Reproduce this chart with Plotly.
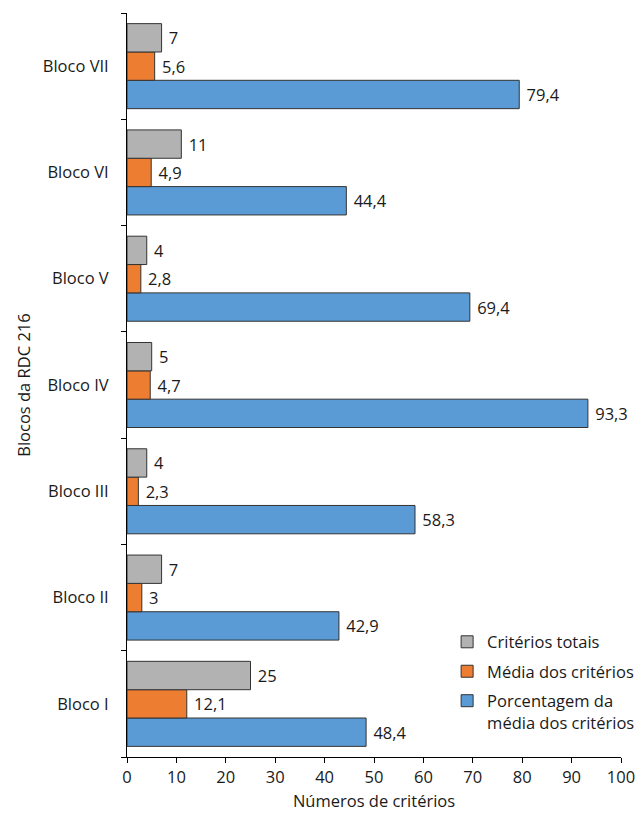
import plotly.graph_objects as go

categories = ["Bloco I", "Bloco II", "Bloco III", "Bloco IV", "Bloco V", "Bloco VI", "Bloco VII"]
criterios_totais = [25, 7, 4, 5, 4, 11, 7]
media_criterios = [12.1, 3, 2.3, 4.7, 2.8, 4.9, 5.6]
porcentagem_media = [48.4, 42.9, 58.3, 93.3, 69.4, 44.4, 79.4]

names = ["Critérios totais", "Média dos critérios", "Porcentagem da<br>média dos critérios"]
colors = ["#b2b2b2", "#ed7d31", "#5b9bd5"]

FONT = "Open Sans"
fs = 16.5

def fmt(v):
    s = ("%g" % v)
    return "\u00a0" + s.replace(".", ",")

fig = go.Figure()
series = [criterios_totais, media_criterios, porcentagem_media]
# plotly places grouped horizontal bars bottom-to-top, so add in reverse
for i in [2, 1, 0]:
    fig.add_trace(go.Bar(
        y=categories, x=series[i], orientation="h", name=names[i],
        legendgroup="g%d" % i, legendrank=i + 1,
        marker=dict(color=colors[i], line=dict(color="#333333", width=1)),
        text=[fmt(v) for v in series[i]], textposition="outside",
        textfont=dict(family=FONT, size=fs, color="#1a1a1a"),
        cliponaxis=False,
    ))

fig.update_layout(
    width=643, height=814,
    margin=dict(l=127, r=22, t=13, b=57, autoexpand=False),
    paper_bgcolor="white", plot_bgcolor="white",
    barmode="group", bargap=0.2, bargroupgap=0,
    font=dict(family=FONT, size=fs, color="#1a1a1a"),
    legend=dict(
        x=0.648, y=0.178, xanchor="left", yanchor="top",
        traceorder="grouped", valign="top",
        font=dict(family=FONT, size=fs, color="#1a1a1a"),
        bgcolor="rgba(0,0,0,0)", tracegroupgap=5,
    ),
    xaxis=dict(
        range=[0, 100], dtick=10, tick0=0, automargin=False,
        showgrid=False, zeroline=False,
        showline=True, linecolor="black", linewidth=1,
        ticks="outside", ticklen=5, tickcolor="black",
        title=dict(text="Números de critérios", standoff=8,
                   font=dict(family=FONT, size=fs)),
        tickfont=dict(family=FONT, size=fs),
    ),
    yaxis=dict(
        type="category", categoryorder="array", categoryarray=categories,
        automargin=False,
        showgrid=False, zeroline=False,
        showline=True, linecolor="black", linewidth=1,
        ticks="outside", ticklen=5, tickcolor="black", tickson="boundaries",
        ticklabelstandoff=14,
        title=dict(text="Blocos da RDC 216", standoff=8,
                   font=dict(family=FONT, size=fs)),
        tickfont=dict(family=FONT, size=fs),
    ),
)

fig.write_html("out.html")
